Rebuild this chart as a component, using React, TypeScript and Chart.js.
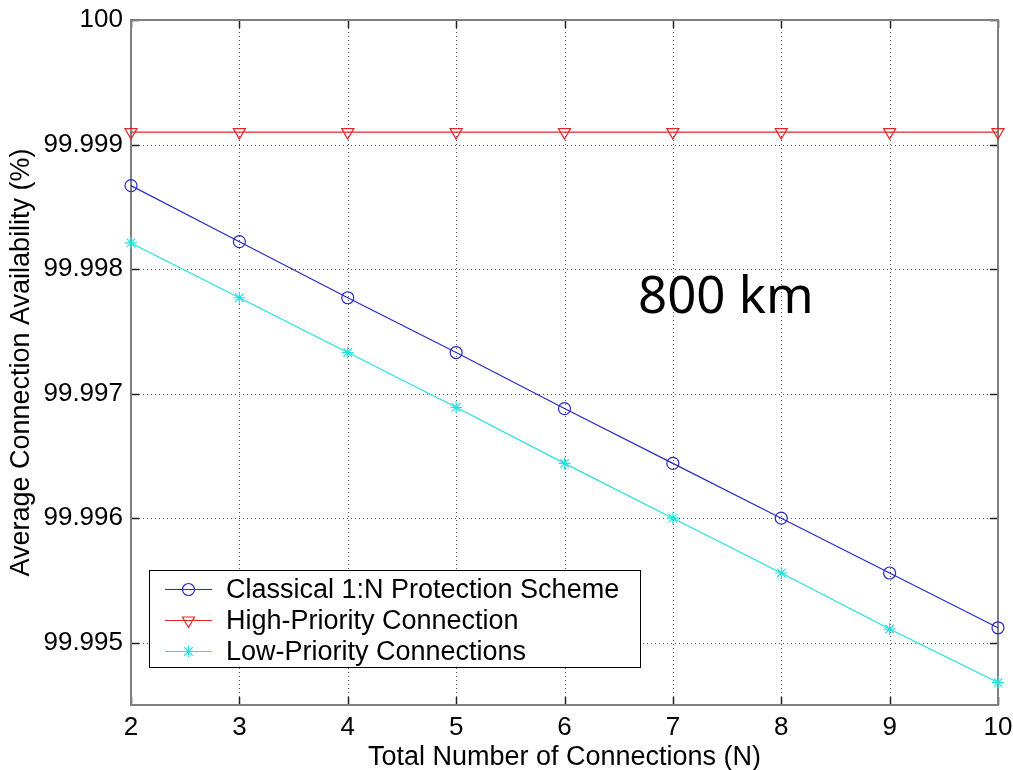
import React, { useEffect, useRef } from "react";
import { Chart, registerables } from "chart.js";

Chart.register(...registerables);

// ---- data ----
const connections = [2, 3, 4, 5, 6, 7, 8, 9, 10];
const classicalScheme = [99.99867, 99.99822, 99.99777, 99.99733, 99.99688, 99.99644, 99.996, 99.99556, 99.99512];
const highPriority = [99.9991, 99.9991, 99.9991, 99.9991, 99.9991, 99.9991, 99.9991, 99.9991, 99.9991];
const lowPriority = [99.99821, 99.99777, 99.99733, 99.99689, 99.99644, 99.996, 99.99556, 99.99511, 99.99468];

const xTickValues = [2, 3, 4, 5, 6, 7, 8, 9, 10];
const yTickValues = [99.995, 99.996, 99.997, 99.998, 99.999, 100];
const yTickLabels = ["99.995", "99.996", "99.997", "99.998", "99.999", "100"];

const seriesNames = ["Classical 1:N Protection Scheme", "High-Priority Connection", "Low-Priority Connections"];
const seriesColors = ["#2a2ac4", "#e02828", "#26e0e0"];
const seriesMarkers = ["circle", "triangleDown", "star"];

const annotationText = "800 km";
const xTitle = "Total Number of Connections (N)";
const yTitle = "Average Connection Availability (%)";

const FONT = "'Liberation Sans', Arial, sans-serif";

function drawMarker(ctx: CanvasRenderingContext2D, kind: string, x: number, y: number, color: string) {
  ctx.save();
  ctx.strokeStyle = color;
  ctx.lineWidth = 1.2;
  ctx.setLineDash([]);
  ctx.beginPath();
  if (kind === "circle") {
    ctx.arc(x, y, 6, 0, Math.PI * 2);
  } else if (kind === "triangleDown") {
    const r = 7;
    ctx.moveTo(x, y + r);
    ctx.lineTo(x - r * 0.866, y - r * 0.5);
    ctx.lineTo(x + r * 0.866, y - r * 0.5);
    ctx.closePath();
  } else {
    const r = 6;
    const d = r * 0.7071;
    ctx.moveTo(x - r, y); ctx.lineTo(x + r, y);
    ctx.moveTo(x, y - r); ctx.lineTo(x, y + r);
    ctx.moveTo(x - d, y - d); ctx.lineTo(x + d, y + d);
    ctx.moveTo(x - d, y + d); ctx.lineTo(x + d, y - d);
  }
  ctx.stroke();
  ctx.restore();
}

const framePlugin = {
  id: "matlabFrame",
  beforeDatasetsDraw(chart: any) {
    const { ctx, chartArea, scales } = chart;
    const { left, right, top, bottom } = chartArea;
    const xs = scales.x;
    const ys = scales.y;
    ctx.save();
    // dotted grid
    ctx.strokeStyle = "#555";
    ctx.lineWidth = 1;
    ctx.setLineDash([1, 3]);
    xTickValues.forEach((v) => {
      const px = Math.round(xs.getPixelForValue(v)) + 0.5;
      ctx.beginPath();
      ctx.moveTo(px, top);
      ctx.lineTo(px, bottom);
      ctx.stroke();
    });
    yTickValues.forEach((v) => {
      const py = Math.round(ys.getPixelForValue(v)) + 0.5;
      ctx.beginPath();
      ctx.moveTo(left, py);
      ctx.lineTo(right, py);
      ctx.stroke();
    });
    ctx.setLineDash([]);
    // inner ticks
    ctx.strokeStyle = "#222";
    ctx.lineWidth = 1.5;
    const tl = 8;
    xTickValues.forEach((v) => {
      const px = Math.round(xs.getPixelForValue(v)) + 0.5;
      ctx.beginPath();
      ctx.moveTo(px, bottom); ctx.lineTo(px, bottom - tl);
      ctx.moveTo(px, top); ctx.lineTo(px, top + tl);
      ctx.stroke();
    });
    yTickValues.forEach((v) => {
      const py = Math.round(ys.getPixelForValue(v)) + 0.5;
      ctx.beginPath();
      ctx.moveTo(left, py); ctx.lineTo(left + tl, py);
      ctx.moveTo(right, py); ctx.lineTo(right - tl, py);
      ctx.stroke();
    });
    // box
    ctx.strokeStyle = "#7f7f7f";
    ctx.lineWidth = 2;
    ctx.strokeRect(left, top, right - left, bottom - top);
    ctx.restore();
  },
  afterDraw(chart: any) {
    const { ctx } = chart;
    ctx.save();
    // annotation
    ctx.fillStyle = "#000";
    ctx.font = "51px 'Noto Sans', sans-serif";
    ctx.textAlign = "left";
    ctx.textBaseline = "alphabetic";
    ctx.fillText(annotationText, 638, 313);

    // legend
    const bx = 149.5, by = 570.5, bw = 491, bh = 97;
    ctx.fillStyle = "#fff";
    ctx.fillRect(bx, by, bw, bh);
    ctx.strokeStyle = "#000";
    ctx.lineWidth = 1;
    ctx.strokeRect(bx, by, bw, bh);
    const rows = [589.5, 620.5, 651.5];
    ctx.font = `27px ${FONT}`;
    ctx.textBaseline = "middle";
    seriesNames.forEach((name, i) => {
      const yy = rows[i];
      ctx.strokeStyle = seriesColors[i];
      ctx.lineWidth = 1.2;
      ctx.beginPath();
      ctx.moveTo(165, yy);
      ctx.lineTo(212, yy);
      ctx.stroke();
      drawMarker(ctx, seriesMarkers[i], 188.5, yy, seriesColors[i]);
      ctx.fillStyle = "#000";
      ctx.fillText(name, 226, yy + 1);
    });
    ctx.restore();
  },
};

const markerStyle: Record<string, any> = {
  circle: { pointStyle: "circle", pointRadius: 6, pointRotation: 0 },
  triangleDown: { pointStyle: "triangle", pointRadius: 7, pointRotation: 180 },
  star: { pointStyle: "star", pointRadius: 6, pointRotation: 0 },
};

export default function App() {
  const ref = useRef<HTMLCanvasElement | null>(null);

  useEffect(() => {
    if (!ref.current) return;
    const series = [classicalScheme, highPriority, lowPriority];
    const chart = new Chart(ref.current, {
      type: "line",
      data: {
        datasets: series.map((vals, i) => ({
          label: seriesNames[i],
          data: connections.map((c, k) => ({ x: c, y: vals[k] })),
          borderColor: seriesColors[i],
          borderWidth: 1.2,
          pointBorderColor: seriesColors[i],
          pointBackgroundColor: "rgba(0,0,0,0)",
          pointBorderWidth: 1.2,
          tension: 0,
          fill: false,
          clip: false as any,
          ...markerStyle[seriesMarkers[i]],
        })),
      },
      options: {
        responsive: false,
        animation: false,
        devicePixelRatio: 1,
        layout: { padding: { left: 0, right: 15, top: 20, bottom: 0 } },
        plugins: { legend: { display: false }, tooltip: { enabled: false }, title: { display: false } },
        scales: {
          x: {
            type: "linear",
            min: 2,
            max: 10,
            afterBuildTicks: (scale: any) => {
              scale.ticks = xTickValues.map((v) => ({ value: v }));
            },
            afterFit: (scale: any) => {
              scale.height = 65;
              scale.paddingLeft = 0;
              scale.paddingRight = 0;
            },
            grid: { display: false, drawTicks: false },
            border: { display: false },
            ticks: {
              padding: 7,
              color: "#000",
              font: { family: FONT, size: 26 },
              maxRotation: 0,
              callback: (v: any) => String(v),
            },
            title: {
              display: true,
              text: xTitle,
              color: "#000",
              font: { family: FONT, size: 27, lineHeight: 1 },
              padding: { top: 0, bottom: -1 },
            },
          },
          y: {
            type: "linear",
            min: 99.9945,
            max: 100,
            afterBuildTicks: (scale: any) => {
              scale.ticks = yTickValues.map((v) => ({ value: v }));
            },
            afterFit: (scale: any) => {
              scale.width = 131;
              scale.paddingTop = 0;
              scale.paddingBottom = 0;
            },
            grid: { display: false, drawTicks: false },
            border: { display: false },
            ticks: {
              padding: 8,
              color: "#000",
              font: { family: FONT, size: 26 },
              callback: (v: any) => {
                const idx = yTickValues.findIndex((t) => Math.abs(t - Number(v)) < 1e-7);
                return idx >= 0 ? yTickLabels[idx] : "";
              },
            },
            title: {
              display: true,
              text: yTitle,
              color: "#000",
              font: { family: FONT, size: 27, lineHeight: 1 },
              padding: { top: 8, bottom: 0 },
            },
          },
        },
      },
      plugins: [framePlugin],
    });
    return () => chart.destroy();
  }, []);

  return (
    <div style={{ position: "absolute", left: 0, top: 0, width: 1013, height: 770, background: "#fff" }}>
      <canvas ref={ref} width={1013} height={770} style={{ display: "block" }} />
    </div>
  );
}
